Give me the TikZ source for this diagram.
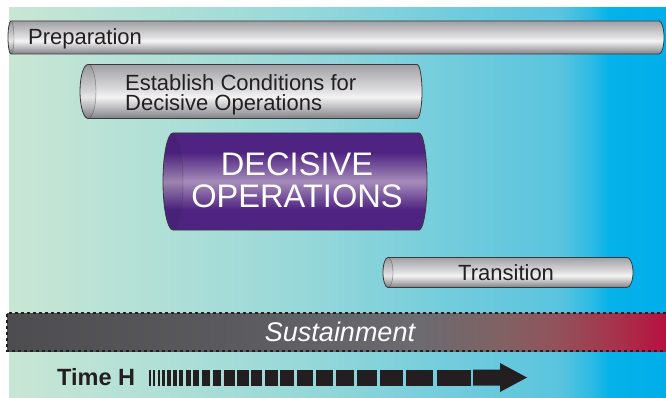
\documentclass[tikz,border=0pt]{standalone}
\usepackage{fontspec}
\setmainfont{Liberation Sans}
\definecolor{edge}{HTML}{3A3A3C}
\definecolor{ink}{HTML}{231F20}
\definecolor{bgA}{HTML}{C9E6D5}
\definecolor{bgB}{HTML}{B2E0D6}
\definecolor{bgC}{HTML}{98D8D9}
\definecolor{bgD}{HTML}{72CCDC}
\definecolor{bgE}{HTML}{5AC4DF}
\definecolor{bgF}{HTML}{2FBBE5}
\definecolor{bgG}{HTML}{05B2E9}
\definecolor{bgH}{HTML}{00AEEA}
\definecolor{suA}{HTML}{4D4D50}
\definecolor{suB}{HTML}{5C5C60}
\definecolor{suC}{HTML}{6B6B70}
\definecolor{suD}{HTML}{806264}
\definecolor{suE}{HTML}{94505A}
\definecolor{suF}{HTML}{A8304A}
\definecolor{suG}{HTML}{B81040}
\definecolor{slA}{HTML}{808084}
\definecolor{slB}{HTML}{A4A4A8}
\definecolor{slC}{HTML}{F4F4F4}
\definecolor{slD}{HTML}{DADADC}
\definecolor{slE}{HTML}{B8B8BB}
\definecolor{slF}{HTML}{A0A0A4}
\definecolor{puA}{HTML}{4E2381}
\definecolor{puB}{HTML}{A68CBA}
\pgfdeclarehorizontalshading{bgshade}{100bp}{color(0bp)=(bgA); color(25bp)=(bgA); color(35.7bp)=(bgB); color(47.1bp)=(bgC); color(58.6bp)=(bgD); color(66.9bp)=(bgE); color(69.2bp)=(bgF); color(70.7bp)=(bgG); color(75bp)=(bgH); color(100bp)=(bgH)}
\pgfdeclarehorizontalshading{sustshade}{100bp}{color(0bp)=(suA); color(25bp)=(suA); color(43.4bp)=(suB); color(56.3bp)=(suC); color(62.4bp)=(suD); color(67bp)=(suE); color(71.5bp)=(suF); color(75bp)=(suG); color(100bp)=(suG)}
\pgfdeclareverticalshading{silver}{100bp}{color(0bp)=(slA); color(25bp)=(slA); color(31bp)=(slB); color(45bp)=(slC); color(53bp)=(slD); color(66bp)=(slE); color(75bp)=(slF); color(100bp)=(slF)}
\pgfdeclareverticalshading{purple}{100bp}{color(0bp)=(puA); color(25bp)=(puA); color(35.5bp)=(puA); color(50bp)=(puB); color(65bp)=(puA); color(75bp)=(puA); color(100bp)=(puA)}
\tikzset{
  bodyline/.style={draw=edge, line width=0.8pt},
  darklabel/.style={text=ink, inner sep=0pt, font=\fontsize{22}{20}\selectfont},
}
\newcommand\mycyl[7]{%
  \pgfmathsetmacro\cylym{(#3+#4)/2}%
  \pgfmathsetmacro\cylry{(#4-#3)/2}%
  \path[bodyline, shading=#7] (#1,#3) -- (#2,#3)
     arc[start angle=-90, end angle=90, x radius=#6, y radius=\cylry] -- (#1,#4)
     arc[start angle=90, end angle=270, x radius=#5, y radius=\cylry] -- cycle;
  \fill[black, opacity=0.05] (#1,\cylym) ellipse[x radius=#5, y radius=\cylry];
  \draw[edge, line width=0.4pt, opacity=0.6] (#1,#3) arc[start angle=-90, end angle=90, x radius=#5, y radius=\cylry];
}
\begin{document}
\begin{tikzpicture}[x=1pt, y=-1pt]
\useasboundingbox (0,0) rectangle (666,398);
\shade[shading=bgshade] (9,8) rectangle (666,398);
% bars
\mycyl{11}{659}{21}{54}{3}{5}{silver}
\node[darklabel, anchor=base west] (prep) at (28,44.3) {Preparation};
\mycyl{88}{417}{64.5}{118.5}{8}{5}{silver}
\node[darklabel, anchor=north west, align=left] (estab) at (125,74) {Establish Conditions for\\Decisive Operations};
\mycyl{173}{419}{133}{230}{10}{8}{purple}
\node[text=white, inner sep=0pt, align=center, font=\fontsize{32.6}{32}\selectfont] (decisive) at (297,180) {DECISIVE\\OPERATIONS};
\mycyl{388}{627}{257.5}{287.5}{5}{6}{silver}
\node[darklabel, anchor=base west] (trans) at (458,280) {Transition};
% sustainment
\shade[shading=sustshade] (7,313) rectangle (666,351);
\draw[ink, line width=1.4pt, dash pattern=on 3pt off 3pt] (666,313) -- (7,313) -- (7,351) -- (666,351);
\node[text=white, inner sep=0pt, anchor=base, font=\fontsize{27}{27}\selectfont\itshape] (sust) at (340,341) {Sustainment};
% time arrow
\node[text=ink, inner sep=0pt, anchor=base west, font=\fontsize{23.5}{23.5}\selectfont\bfseries] (timeh) at (57,385) {Time H};
\foreach \a/\b in {149/151, 153.3/155.3, 157.5/160, 162.2/165, 167.2/170.5, 172.5/176.5, 178.7/183.3, 185.7/191, 193.3/199.3, 202/209.5, 212.5/221, 224/234.5, 237/248.5, 251/262, 265/277.5, 280/294, 297/312.5, 315.5/333, 336/354, 357/376.5, 379.5/403, 406/433, 437/470.5}
  \fill[ink] (\a,369.5) rectangle (\b,385.5);
\fill[ink] (473,369.5) -- (500,369.5) -- (500,363) -- (527,377.5) -- (500,392) -- (500,385.5) -- (473,385.5) -- cycle;
\end{tikzpicture}
\end{document}
